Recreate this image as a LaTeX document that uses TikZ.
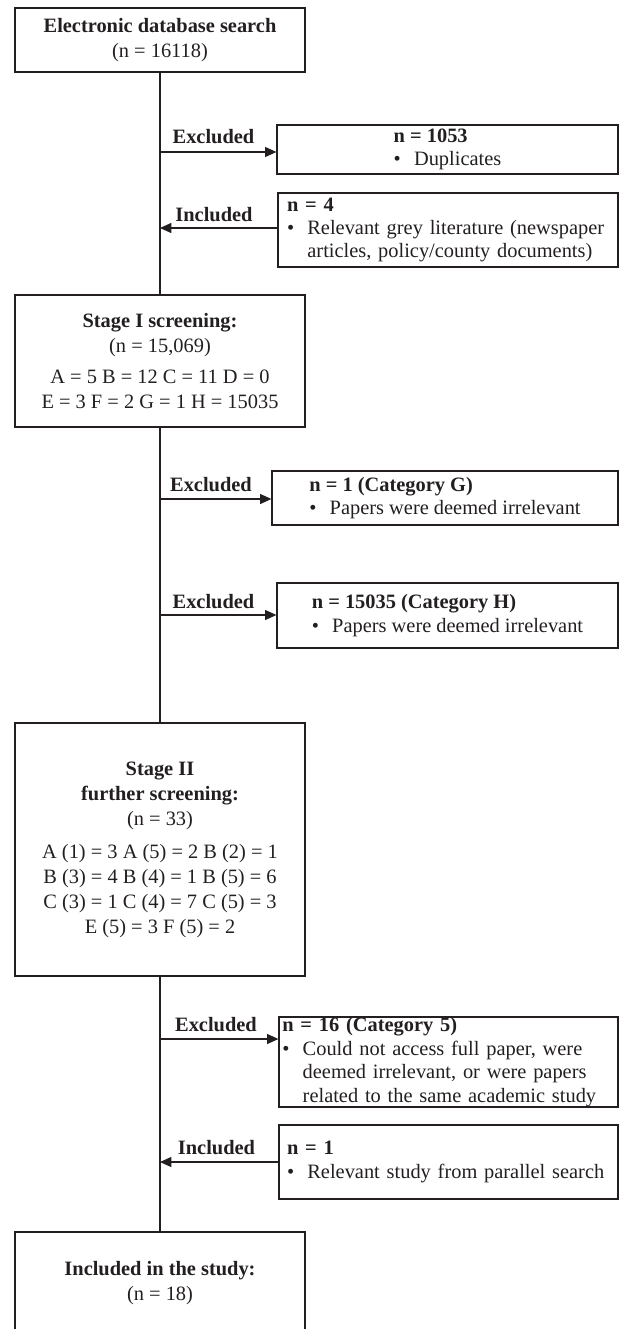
\documentclass[tikz,border=0pt]{standalone}
\usepackage{fontspec}
\setmainfont{Liberation Serif}
\usetikzlibrary{arrows.meta}
\definecolor{ink}{RGB}{35,31,32}
\newcommand{\myblt}{\makebox[1em][l]{•}}
\begin{document}
\begin{tikzpicture}[x=0.75pt,y=-0.75pt,
  mainbox/.style={draw=ink, line width=0.9pt, minimum width=217.5pt, inner sep=0pt, align=center, text=ink, font=\fontsize{15.3}{18.75}\selectfont},
  sidebox/.style={draw=ink, line width=0.9pt, inner sep=0pt, text=ink, font=\fontsize{15.3}{17.6}\selectfont},
  lbl/.style={text=ink, font=\bfseries\fontsize{15.3}{18.75}\selectfont, inner sep=0pt},
  conn/.style={draw=ink, line width=0.8pt},
  arr/.style={conn, -{Triangle[length=8.5pt,width=7.5pt]}}
]
\useasboundingbox (0,0) rectangle (620,1329);
\clip (0,0) rectangle (620,1329);

% main column
\node[mainbox, minimum height=48pt] (search) at (160,40) {\textbf{Electronic database search}\\(n = 16118)};
\node[mainbox, minimum height=99pt] (stage1) at (160,361) {\textbf{Stage I screening:}\\(n = 15,069)\\[4pt]A = 5 B = 12 C = 11 D = 0\\E = 3 F = 2 G = 1 H = 15035};
\node[mainbox, minimum height=189.75pt] (stage2) at (160,849.5) {\textbf{Stage II}\\\textbf{further screening:}\\(n = 33)\\[6pt]A (1) = 3 A (5) = 2 B (2) = 1\\B (3) = 4 B (4) = 1 B (5) = 6\\C (3) = 1 C (4) = 7 C (5) = 3\\E (5) = 3 F (5) = 2};
\node[mainbox, minimum height=76.5pt] (final) at (160,1283) {\textbf{Included in the study:}\\(n = 18)};

% side boxes
\node[sidebox, minimum width=255.75pt, minimum height=36.75pt, align=left] (dup) at (447.5,149.5) {\textbf{n = 1053}\\\myblt Duplicates};
\node[sidebox, minimum width=255pt, minimum height=55.5pt, text width=241.5pt, inner xsep=6.75pt, align=left] (grey) at (448,230) {\textbf{n = 4}\\\myblt Relevant grey literature (newspaper\\\hphantom{\myblt}articles, policy/county documents)};
\node[sidebox, minimum width=259.5pt, minimum height=40.5pt, align=left] (catG) at (445,498) {\textbf{n = 1 (Category G)}\\\myblt Papers were deemed irrelevant};
\node[sidebox, minimum width=255.75pt, minimum height=48.75pt, align=left] (catH) at (447.5,615.5) {\textbf{n = 15035 (Category H)}\\\myblt Papers were deemed irrelevant};
\node[sidebox, minimum width=254.25pt, minimum height=67.5pt, text width=249.25pt, inner xsep=2.5pt, align=left] (cat5) at (448.5,1062) {\textbf{n = 16 (Category 5)}\\\myblt Could not access full paper, were\\\hphantom{\myblt}deemed irrelevant, or were papers\\\hphantom{\myblt}related to the same academic study};
\node[sidebox, minimum width=254.25pt, minimum height=55.5pt, text width=242.25pt, inner xsep=6pt, align=left] (par) at (448.5,1162) {\textbf{n = 1}\\\myblt Relevant study from parallel search};

% junctions on the main line
\coordinate (j1) at (160,152);
\coordinate (j2) at (160,228);
\coordinate (j3) at (160,499);
\coordinate (j4) at (160,615);
\coordinate (j5) at (160,1039);
\coordinate (j6) at (160,1162);

% connectors
\draw[conn] (search.south) -- (stage1.north);
\draw[conn] (stage1.south) -- (stage2.north);
\draw[conn] (stage2.south) -- (final.north);
\draw[arr] (j1) -- (j1 -| dup.west);
\draw[arr] (j2 -| grey.west) -- (j2);
\draw[arr] (j3) -- (j3 -| catG.west);
\draw[arr] (j4) -- (j4 -| catH.west);
\draw[arr] (j5) -- (j5 -| cat5.west);
\draw[arr] (j6 -| par.west) -- (j6);

% labels
\node[lbl] (l1) at (213.5,137) {Excluded};
\node[lbl] (l2) at (214,215) {Included};
\node[lbl] (l3) at (211,485) {Excluded};
\node[lbl] (l4) at (213.5,602) {Excluded};
\node[lbl] (l5) at (216,1025) {Excluded};
\node[lbl] (l6) at (216.5,1148) {Included};
\end{tikzpicture}
\end{document}
